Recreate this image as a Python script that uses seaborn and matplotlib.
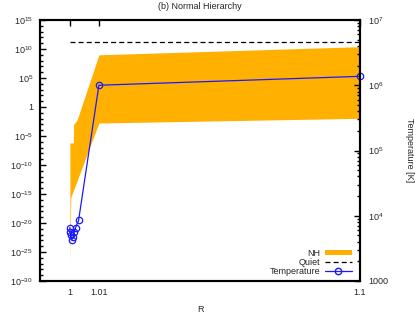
import numpy as np
import pandas as pd
import matplotlib
matplotlib.use("Agg")
import matplotlib.pyplot as plt
import matplotlib.ticker as mticker
from matplotlib.patches import Patch
from matplotlib.lines import Line2D
import seaborn as sns

sns.set_theme(style="white")
plt.rcParams['font.family'] = ['Liberation Sans', 'DejaVu Sans']
plt.rcParams['mathtext.default'] = 'regular'

# ---- data ----
R_band = [1.0, 1.0003, 1.0012, 1.0013, 1.0025, 1.01, 1.1]
nh_upper = [10**-6.2, 10**-6.2, 10**-6.2, 10**-3.0, 10**-2.2, 10**9.0, 10**10.4]
nh_lower = [10**-26.7, 10**-15.6, 10**-14.4, 10**-14.3, 10**-12.7, 10**-2.76, 10**-1.95]

R_quiet = [1.0, 1.1]
quiet = [1.8e11, 1.8e11]

R_temp = [1.0, 1.0001, 1.0003, 1.0007, 1.0011, 1.0015, 1.002, 1.003, 1.01, 1.1]
temperature = [6600, 5600, 5000, 4300, 4700, 5600, 6600, 8500, 1.0e6, 1.37e6]

x_ticks = [1.0, 1.01, 1.1]
x_ticklabels = ["1", "1.01", "1.1"]
left_exps = [-30, -25, -20, -15, -10, -5, 0, 5, 10, 15]
right_exps = [3, 4, 5, 6, 7]

orange = "#ffb000"
blue = "#1a1aff"

fig = plt.figure(figsize=(4.19, 3.13), dpi=100)
ax = fig.add_axes([40/419, 1-281/313, 320/419, 261/313])
ax2 = ax.twinx()

ax.fill_between(R_band, nh_lower, nh_upper, color=orange, linewidth=0)
qdf = pd.DataFrame({"R": R_quiet, "Q": quiet})
sns.lineplot(data=qdf, x="R", y="Q", ax=ax, color="black", linestyle=(0, (4, 2.5)),
             linewidth=0.9, legend=False)
ax.set_yscale("log")
ax.set_ylim(1e-30, 1e15)
ax.set_xlim(0.9897, 1.1)

tdf = pd.DataFrame({"R": R_temp, "T": temperature})
sns.lineplot(data=tdf, x="R", y="T", ax=ax2, color=blue, linewidth=0.9,
             marker="o", markersize=4.6, markerfacecolor="none",
             markeredgecolor=blue, markeredgewidth=0.9, legend=False, clip_on=False)
ax2.set_yscale("log")
ax2.set_ylim(1e3, 1e7)

# ticks
ax.yaxis.set_major_locator(mticker.FixedLocator([10.0**e for e in left_exps]))
ax.yaxis.set_minor_locator(mticker.FixedLocator([10.0**e for e in range(-30, 16) if e % 5 != 0]))
def lfmt(v, pos):
    e = int(round(np.log10(v)))
    return "1" if e == 0 else r"$10^{%d}$" % e
ax.yaxis.set_major_formatter(mticker.FuncFormatter(lfmt))
ax.yaxis.set_minor_formatter(mticker.NullFormatter())

ax2.yaxis.set_major_locator(mticker.FixedLocator([10.0**e for e in right_exps]))
ax2.yaxis.set_minor_locator(mticker.LogLocator(base=10, subs=np.arange(2, 10), numticks=20))
def rfmt(v, pos):
    e = int(round(np.log10(v)))
    return "1000" if e == 3 else r"$10^{%d}$" % e
ax2.yaxis.set_major_formatter(mticker.FuncFormatter(rfmt))
ax2.yaxis.set_minor_formatter(mticker.NullFormatter())

ax.set_xticks(x_ticks)
ax.set_xticklabels(x_ticklabels)

ax.tick_params(axis="both", which="both", direction="in", labelsize=6.5, color="black",
               top=True, right=False, pad=5)
ax.tick_params(which="major", length=4, width=1)
ax.tick_params(which="minor", length=2, width=1)
ax2.tick_params(axis="y", which="both", direction="in", labelsize=6.5, color="black", pad=6)
ax2.tick_params(which="major", length=4, width=1)
ax2.tick_params(which="minor", length=2, width=1)

for a in (ax, ax2):
    for s in a.spines.values():
        s.set_linewidth(1.5)
        s.set_color("black")
    a.grid(False)

ax.set_xlabel("R", fontsize=6.5, labelpad=6)
ax.set_ylabel("")
ax2.set_ylabel("Temperature [K]", fontsize=6.5, rotation=270, va="center")
ax2.yaxis.set_label_coords(1.156, 0.5)
ax.set_title("(b) Normal Hierarchy", fontsize=6.5, pad=8)

handles = [Patch(facecolor=orange, edgecolor="none"),
           Line2D([], [], color="black", linestyle=(0, (4, 2.5)), linewidth=0.9),
           Line2D([], [], color=blue, linewidth=0.9, marker="o", markersize=4.6,
                  markerfacecolor="none", markeredgecolor=blue)]
ax2.legend(handles, ["NH", "Quiet", "Temperature"], loc="lower right",
           bbox_to_anchor=(0.985, 0.005), frameon=False, markerfirst=False,
           fontsize=6.5, handlelength=2.9, handleheight=0.5, labelspacing=0.0,
           borderaxespad=0.2, handletextpad=0.6, borderpad=0.2)

fig.savefig("out.png", dpi=100)
